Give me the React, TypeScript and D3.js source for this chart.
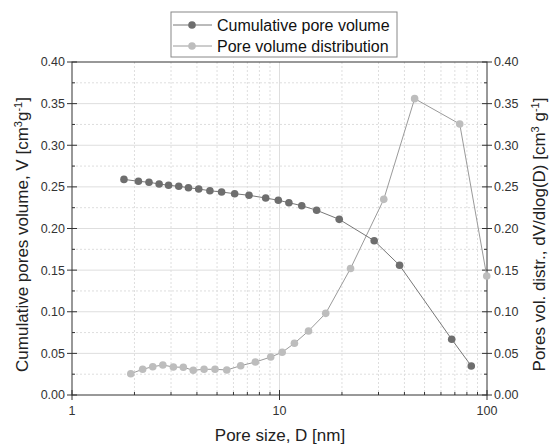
import React from "react";
import * as d3 from "d3";

const cumD = [1.78, 2.09, 2.35, 2.63, 2.92, 3.27, 3.64, 4.08, 4.62, 5.26, 6.08, 7.13, 8.58, 9.87, 11.1, 12.8, 15.1, 19.4, 28.6, 37.9, 67.6, 84.0];
const cumV = [0.259, 0.2567, 0.2555, 0.2535, 0.2519, 0.2507, 0.249, 0.2474, 0.2454, 0.2438, 0.2418, 0.2399, 0.2366, 0.2339, 0.231, 0.2274, 0.2219, 0.211, 0.1853, 0.1558, 0.0669, 0.0348];
const distD = [1.92, 2.19, 2.45, 2.74, 3.08, 3.44, 3.84, 4.33, 4.89, 5.57, 6.5, 7.65, 9.07, 10.3, 11.8, 13.8, 16.7, 22.0, 31.8, 44.8, 73.9, 99.7];
const distV = [0.0256, 0.0309, 0.034, 0.036, 0.0336, 0.0333, 0.0297, 0.0309, 0.0309, 0.03, 0.0352, 0.0396, 0.0456, 0.0513, 0.0621, 0.0769, 0.0981, 0.152, 0.235, 0.356, 0.3255, 0.143];
const yTicks = [0, 0.05, 0.1, 0.15, 0.2, 0.25, 0.3, 0.35, 0.4];
const yMinor = [0.025, 0.075, 0.125, 0.175, 0.225, 0.275, 0.325, 0.375];
const xTicks = [1, 10, 100];
const xMinor = [2, 3, 4, 5, 6, 7, 8, 9, 20, 30, 40, 50, 60, 70, 80, 90];
const legendLabels = ["Cumulative pore volume", "Pore volume distribution"];

const L = 72, R = 487, T = 62, B = 395;
const FONT = "Liberation Sans, Arial, sans-serif";

export default function App() {
  const x = d3.scaleLog().domain([1, 100]).range([L, R]);
  const y = d3.scaleLinear().domain([0, 0.4]).range([B, T]);
  const line = d3.line<[number, number]>().x((d) => x(d[0])).y((d) => y(d[1]));
  const cum: [number, number][] = cumD.map((d, i) => [d, cumV[i]]);
  const dist: [number, number][] = distD.map((d, i) => [d, distV[i]]);
  const cumColor = "#6e6e6e";
  const distColor = "#bdbdbd";
  const gridColor = "#dedede";
  const axisColor = "#333";
  const fmt = d3.format(".2f");

  return (
    <svg width={550} height={448} style={{ position: "absolute", left: 0, top: 0, background: "#fff" }} fontFamily={FONT}>
      <rect x={0} y={0} width={550} height={448} fill="#fff" />
      {/* grid */}
      {yMinor.map((v) => (
        <line key={"ym" + v} x1={L} x2={R} y1={y(v)} y2={y(v)} stroke={gridColor} strokeWidth={1} strokeDasharray="2,2" />
      ))}
      {yTicks.slice(1, -1).map((v) => (
        <line key={"yg" + v} x1={L} x2={R} y1={y(v)} y2={y(v)} stroke={gridColor} strokeWidth={1} />
      ))}
      {xMinor.map((v) => (
        <line key={"xm" + v} x1={x(v)} x2={x(v)} y1={T} y2={B} stroke={gridColor} strokeWidth={1} strokeDasharray="2,2" />
      ))}
      <line x1={x(10)} x2={x(10)} y1={T} y2={B} stroke={gridColor} strokeWidth={1} />
      {/* frame */}
      <rect x={L} y={T} width={R - L} height={B - T} fill="none" stroke={axisColor} strokeWidth={1} />
      {/* y axes ticks */}
      {yTicks.map((v) => (
        <g key={"yl" + v}>
          <line x1={L - 5} x2={L + 5} y1={y(v)} y2={y(v)} stroke={axisColor} />
          <line x1={R - 5} x2={R + 5} y1={y(v)} y2={y(v)} stroke={axisColor} />
          <text x={L - 7} y={y(v)} dy="0.35em" textAnchor="end" fontSize={12.5} fill="#333">{fmt(v)}</text>
          <text x={R + 7} y={y(v)} dy="0.35em" textAnchor="start" fontSize={12.5} fill="#333">{fmt(v)}</text>
        </g>
      ))}
      {yMinor.map((v) => (
        <g key={"ymt" + v}>
          <line x1={L} x2={L + 3} y1={y(v)} y2={y(v)} stroke={axisColor} />
          <line x1={R - 3} x2={R} y1={y(v)} y2={y(v)} stroke={axisColor} />
        </g>
      ))}
      {xTicks.map((v) => (
        <g key={"xt" + v}>
          <line x1={x(v)} x2={x(v)} y1={B - 5} y2={B + 5} stroke={axisColor} />
          <text x={x(v)} y={B + 20} textAnchor="middle" fontSize={12.5} fill="#333">{v}</text>
        </g>
      ))}
      {xMinor.map((v) => (
        <line key={"xmt" + v} x1={x(v)} x2={x(v)} y1={B - 3} y2={B} stroke={axisColor} />
      ))}
      {/* series */}
      <path d={line(dist) || ""} fill="none" stroke="#9a9a9a" strokeWidth={1} />
      <path d={line(cum) || ""} fill="none" stroke="#777" strokeWidth={1} />
      {dist.map((d, i) => (
        <circle key={"dp" + i} cx={x(d[0])} cy={y(d[1])} r={3.8} fill={distColor} />
      ))}
      {cum.map((d, i) => (
        <circle key={"cp" + i} cx={x(d[0])} cy={y(d[1])} r={3.8} fill={cumColor} />
      ))}
      {/* axis titles */}
      <text x={280} y={441} textAnchor="middle" fontSize={17} fill="#222">Pore size, D [nm]</text>
      <text transform={`translate(28,${(T + B) / 2 + 6}) rotate(-90)`} textAnchor="middle" fontSize={17} fill="#222">
        Cumulative pores volume, V [cm<tspan dy={-6} fontSize={11}>3</tspan><tspan dy={6}>g</tspan><tspan dy={-6} fontSize={11}>-1</tspan><tspan dy={6}>]</tspan>
      </text>
      <text transform={`translate(545,${(T + B) / 2 + 6}) rotate(-90)`} textAnchor="middle" fontSize={17} fill="#222">
        Pores vol. distr., dV/dlog(D) [cm<tspan dy={-6} fontSize={11}>3</tspan><tspan dy={6}> g</tspan><tspan dy={-6} fontSize={11}>-1</tspan><tspan dy={6}>]</tspan>
      </text>
      {/* legend */}
      <rect x={171} y={12} width={226} height={45} fill="#fff" stroke="#888" strokeWidth={1} />
      {legendLabels.map((lab, i) => {
        const cy = 25 + i * 21;
        const col = i === 0 ? cumColor : distColor;
        return (
          <g key={lab}>
            <line x1={173} x2={212} y1={cy} y2={cy} stroke={i === 0 ? "#777" : "#9a9a9a"} />
            <circle cx={192} cy={cy} r={3.8} fill={col} />
            <text x={217} y={cy} dy="0.35em" fontSize={16} fill="#111">{lab}</text>
          </g>
        );
      })}
    </svg>
  );
}
